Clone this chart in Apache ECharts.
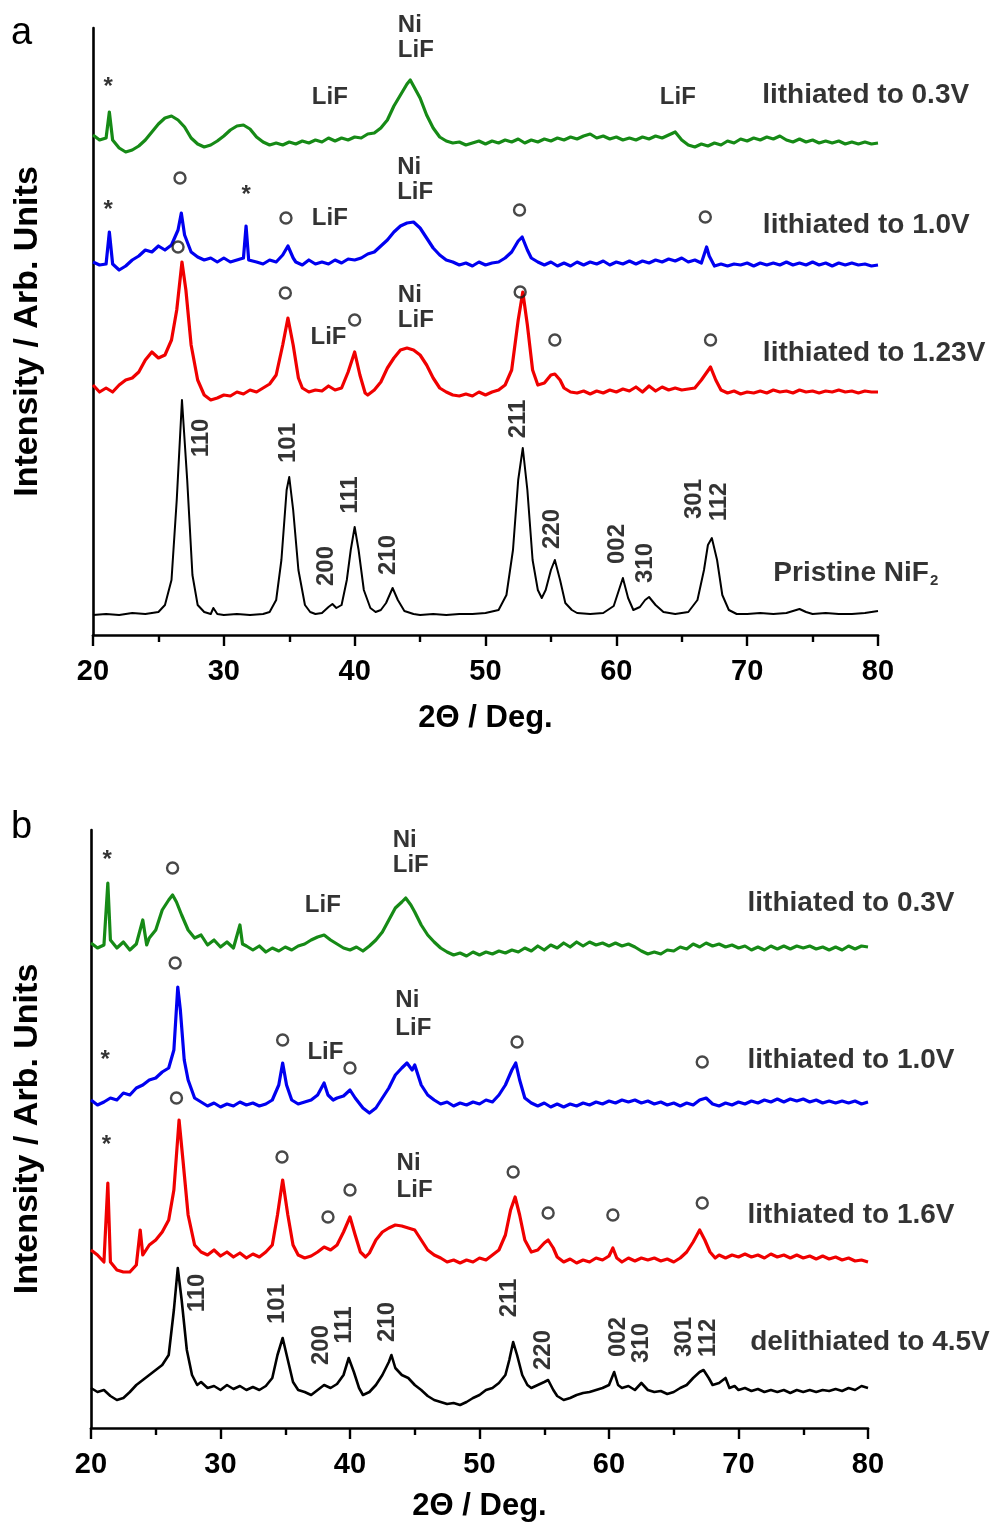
<!DOCTYPE html>
<html>
<head>
<meta charset="utf-8">
<script src="https://cdn.jsdelivr.net/npm/echarts@6/dist/echarts.min.js"></script>
<style>
html,body{margin:0;padding:0;background:#fff;}
#chart{width:996px;height:1525px;}
</style>
</head>
<body>
<div id="chart"></div>
<script>
// ---------------- DATA (2θ in degrees, intensity in arbitrary units, traces already stacked) ----------------
// Panel a
const greenA = [[20,500],[20.5,495],[21,497],[21.25,523],[21.5,495],[22,487],[22.5,483],[23,485],[23.5,489],[24,495],[24.5,503],[25,511],[25.5,517],[26,519],[26.5,515],[27,508],[27.5,497],[28,491],[28.5,488],[29,490],[29.5,494],[30,499],[30.5,505],[31,509],[31.5,510],[32,506],[32.5,498],[33,493],[33.5,490],[34,492],[34.5,490],[35,493],[35.5,491],[36,494],[36.5,492],[37,495],[37.5,493],[38,497],[38.5,494],[39,497],[39.5,495],[40,498],[40.5,497],[41,501],[41.5,502],[42,507],[42.5,515],[43,529],[43.5,540],[44,551],[44.25,555],[44.5,549],[45,537],[45.5,520],[46,507],[46.5,498],[47,494],[47.5,492],[48,493],[48.5,490],[49,492],[49.5,494],[50,491],[50.5,494],[51,492],[51.5,495],[52,493],[52.5,496],[53,492],[53.5,495],[54,493],[54.5,496],[55,494],[55.5,497],[56,495],[56.5,498],[57,496],[57.5,499],[58,501],[58.5,497],[59,499],[59.5,496],[60,498],[60.5,495],[61,497],[61.5,495],[62,498],[62.5,496],[63,499],[63.5,497],[64,500],[64.5,503],[65,495],[65.5,490],[66,488],[66.5,491],[67,489],[67.5,492],[68,490],[68.5,494],[69,492],[69.5,496],[70,494],[70.5,497],[71,495],[71.5,498],[72,496],[72.5,499],[73,495],[73.5,493],[74,496],[74.5,493],[75,495],[75.5,492],[76,494],[76.5,492],[77,494],[77.5,491],[78,493],[78.5,491],[79,493],[79.5,491],[80,492]];
const blueA = [[20,373],[20.5,370],[21,371],[21.25,403],[21.5,371],[22,365],[22.5,369],[23,375],[23.5,379],[24,385],[24.5,383],[25,389],[25.5,385],[26,390],[26.5,405],[26.75,422],[27,400],[27.5,383],[28,378],[28.5,375],[29,377],[29.5,373],[30,377],[30.5,373],[31,375],[31.5,377],[31.7,409],[31.9,375],[32.5,373],[33,371],[33.5,375],[34,373],[34.5,380],[34.9,389],[35.3,377],[35.5,373],[36,370],[36.5,375],[37,371],[37.5,373],[38,371],[38.5,375],[39,372],[39.5,376],[40,375],[40.5,377],[41,381],[41.5,383],[42,389],[42.5,395],[43,403],[43.5,409],[44,412],[44.5,413],[45,407],[45.5,397],[46,387],[46.5,380],[47,375],[47.5,373],[48,370],[48.5,372],[49,369],[49.5,373],[50,370],[50.5,372],[51,373],[51.5,377],[52,383],[52.5,394],[52.8,398],[53.2,385],[53.5,377],[54,373],[54.5,370],[55,373],[55.5,369],[56,372],[56.5,369],[57,373],[57.5,370],[58,373],[58.5,371],[59,374],[59.5,370],[60,373],[60.5,371],[61,374],[61.5,371],[62,374],[62.5,372],[63,375],[63.5,373],[64,376],[64.5,374],[65,377],[65.5,373],[66,375],[66.5,372],[66.9,388],[67.1,379],[67.5,369],[68,371],[68.5,369],[69,371],[69.5,370],[70,372],[70.5,369],[71,372],[71.5,370],[72,372],[72.5,370],[73,373],[73.5,370],[74,372],[74.5,370],[75,373],[75.5,370],[76,372],[76.5,369],[77,372],[77.5,370],[78,372],[78.5,370],[79,371],[79.5,369],[80,370]];
const redA = [[20,250],[20.5,243],[21,247],[21.5,243],[22,250],[22.5,255],[23,257],[23.5,263],[24,275],[24.5,283],[25,277],[25.5,280],[26,295],[26.4,325],[26.8,373],[27.1,345],[27.5,290],[28,255],[28.5,240],[29,235],[29.5,237],[30,240],[30.5,239],[31,243],[31.5,241],[32,245],[32.5,243],[33,247],[33.5,251],[34,260],[34.5,290],[34.9,317],[35.3,290],[35.7,257],[36,247],[36.5,243],[37,245],[37.5,244],[38,249],[38.5,245],[39,247],[39.5,263],[40,283],[40.4,260],[40.8,242],[41,240],[41.5,245],[42,253],[42.5,267],[43,277],[43.5,285],[44,287],[44.5,285],[45,280],[45.5,270],[46,257],[46.5,247],[47,243],[47.5,240],[48,239],[48.5,241],[49,239],[49.5,243],[50,240],[50.5,243],[51,245],[51.5,250],[52,265],[52.5,315],[52.85,343],[53.2,310],[53.6,265],[54,250],[54.5,252],[55,260],[55.3,261],[55.7,255],[56,247],[56.5,243],[57,242],[57.5,244],[58,241],[58.5,244],[59,242],[59.5,245],[60,243],[60.5,246],[61,244],[61.5,248],[62,243],[62.5,249],[63,244],[63.5,248],[64,245],[64.5,247],[65,245],[65.5,246],[66,247],[66.5,255],[67.2,268],[67.6,255],[68,245],[68.5,242],[69,244],[69.5,241],[70,243],[70.5,242],[71,244],[71.5,242],[72,245],[72.5,243],[73,244],[73.5,242],[74,245],[74.5,243],[75,244],[75.5,242],[76,244],[76.5,243],[77,245],[77.5,243],[78,244],[78.5,242],[79,244],[79.5,243],[80,243]];
const blackA = [[20,20],[21,21],[22,20],[23,22],[24,21],[25,23],[25.5,30],[26,55],[26.4,135],[26.8,235],[27.2,155],[27.6,60],[28,30],[28.5,23],[29,21],[29.2,27],[29.5,21],[30,20],[31,21],[32,20],[33,21],[33.5,23],[34,35],[34.4,75],[34.8,145],[35,158],[35.3,125],[35.7,65],[36.2,30],[36.6,23],[37,21],[37.5,22],[38,28],[38.3,31],[38.6,27],[39,30],[39.4,55],[39.7,85],[40,108],[40.3,85],[40.7,45],[41.2,27],[41.6,23],[42,25],[42.4,32],[42.9,47],[43.3,35],[43.8,24],[44.5,21],[45,20],[46,21],[47,20],[48,21],[49,21],[50,22],[51,25],[51.6,40],[52.1,85],[52.5,155],[52.85,187],[53.2,145],[53.6,75],[54,45],[54.3,37],[54.6,45],[55,65],[55.3,75],[55.7,55],[56.1,32],[56.6,25],[57,22],[58,21],[59,22],[59.8,29],[60.2,45],[60.5,57],[60.9,37],[61.3,25],[61.8,28],[62.2,35],[62.5,38],[63,30],[63.6,23],[64.5,21],[65.5,23],[66.2,35],[66.7,65],[67,90],[67.3,97],[67.7,75],[68.1,40],[68.6,25],[69.2,21],[70,21],[71,22],[72,21],[73,22],[74,26],[74.5,23],[75,21],[76,22],[77,21],[78,21],[79,22],[80,24]];

// Panel b
const greenB = [[20,485],[20.5,480],[21,483],[21.3,545],[21.5,488],[22,480],[22.5,486],[23,478],[23.5,484],[24,508],[24.3,483],[24.5,490],[25,498],[25.5,518],[26,528],[26.3,533],[26.6,526],[27,513],[27.5,498],[28,490],[28.5,493],[29,483],[29.5,488],[30,481],[30.5,486],[31,480],[31.5,503],[31.7,484],[32,482],[32.5,478],[33,482],[33.5,476],[34,480],[34.5,477],[35,481],[35.5,478],[36,482],[36.5,484],[37,488],[37.5,491],[38,493],[38.5,488],[39,484],[39.5,480],[40,478],[40.5,481],[41,477],[41.5,482],[42,488],[42.5,496],[43,508],[43.5,520],[44,526],[44.3,530],[44.7,523],[45,516],[45.5,503],[46,493],[46.5,486],[47,480],[47.5,476],[48,473],[48.5,475],[49,472],[49.5,476],[50,473],[50.5,476],[51,474],[51.5,477],[52,475],[52.5,478],[53,476],[53.5,480],[54,477],[54.5,482],[55,478],[55.5,483],[56,480],[56.5,485],[57,481],[57.5,486],[58,482],[58.5,486],[59,483],[59.5,485],[60,482],[60.5,485],[61,482],[61.5,484],[62,481],[62.5,477],[63,474],[63.5,476],[64,474],[64.5,478],[65,477],[65.5,481],[66,479],[66.5,484],[67,481],[67.5,485],[68,482],[68.5,484],[69,481],[69.5,483],[70,480],[70.5,482],[71,478],[71.5,481],[72,478],[72.5,482],[73,479],[73.5,482],[74,479],[74.5,482],[75,480],[75.5,482],[76,479],[76.5,481],[77,478],[77.5,481],[78,478],[78.5,482],[79,479],[79.5,482],[80,481]];
const blueB = [[20,328],[20.5,323],[21,326],[21.5,330],[22,328],[22.5,335],[23,333],[23.5,340],[24,343],[24.5,348],[25,350],[25.5,356],[26,360],[26.4,378],[26.7,441],[26.9,418],[27.2,368],[27.5,348],[28,330],[28.5,326],[29,322],[29.5,325],[30,321],[30.5,324],[31,322],[31.5,326],[32,323],[32.5,325],[33,322],[33.5,324],[34,328],[34.5,343],[34.8,365],[35.1,343],[35.5,328],[36,324],[36.5,326],[37,328],[37.5,333],[38,345],[38.3,333],[38.7,328],[39,330],[39.5,332],[40,338],[40.4,330],[41,320],[41.5,315],[42,320],[42.5,330],[43,340],[43.5,353],[44,360],[44.4,365],[44.8,358],[45,363],[45.5,343],[46,333],[46.5,328],[47,324],[47.5,326],[48,322],[48.5,325],[49,323],[49.5,326],[50,324],[50.5,328],[51,326],[51.5,333],[52,343],[52.5,358],[52.8,365],[53.1,348],[53.5,330],[54,325],[54.5,322],[55,325],[55.5,321],[56,324],[56.5,321],[57,324],[57.5,322],[58,325],[58.5,323],[59,326],[59.5,324],[60,327],[60.5,325],[61,328],[61.5,326],[62,328],[62.5,325],[63,327],[63.5,324],[64,326],[64.5,323],[65,325],[65.5,322],[66,325],[66.5,323],[67,328],[67.5,330],[68,324],[68.5,322],[69,325],[69.5,323],[70,326],[70.5,324],[71,327],[71.5,325],[72,328],[72.5,326],[73,329],[73.5,326],[74,329],[74.5,327],[75,329],[75.5,326],[76,328],[76.5,325],[77,327],[77.5,325],[78,327],[78.5,325],[79,327],[79.5,324],[80,326]];
const redB = [[20,178],[20.5,173],[21,166],[21.3,245],[21.5,166],[22,158],[22.5,156],[23,156],[23.5,163],[23.8,198],[24,173],[24.5,183],[25,188],[25.5,196],[26,208],[26.4,238],[26.8,308],[27.1,268],[27.5,213],[28,183],[28.5,176],[29,173],[29.5,178],[30,172],[30.5,176],[31,171],[31.5,175],[32,170],[32.5,174],[33,171],[33.5,176],[34,183],[34.4,213],[34.8,248],[35.2,213],[35.6,183],[36,173],[36.5,170],[37,172],[37.5,176],[38,181],[38.5,178],[39,183],[39.5,196],[40,211],[40.4,193],[40.8,176],[41.2,171],[41.5,175],[42,188],[42.5,196],[43,200],[43.5,203],[44,202],[44.5,200],[45,198],[45.5,188],[46,178],[46.5,173],[47,170],[47.5,166],[48,168],[48.5,165],[49,168],[49.5,166],[50,170],[50.5,168],[51,173],[51.5,178],[52,193],[52.4,218],[52.75,231],[53.1,213],[53.5,188],[54,176],[54.5,178],[55,185],[55.3,188],[55.7,180],[56,171],[56.5,166],[57,169],[57.5,165],[58,168],[58.5,166],[59,170],[59.5,168],[60,172],[60.3,180],[60.6,170],[61,166],[61.5,170],[62,167],[62.5,170],[63,168],[63.5,170],[64,167],[64.5,169],[65,166],[65.5,170],[66,176],[66.5,186],[67,198],[67.4,188],[67.8,176],[68.2,170],[68.5,173],[69,170],[69.5,173],[70,171],[70.5,174],[71,171],[71.5,173],[72,170],[72.5,174],[73,171],[73.5,173],[74,170],[74.5,173],[75,170],[75.5,172],[76,169],[76.5,172],[77,169],[77.5,171],[78,168],[78.5,170],[79,167],[79.5,168],[80,166]];
const blackB = [[20,40],[20.5,36],[21,38],[21.5,32],[22,28],[22.5,30],[23,36],[23.5,43],[24,48],[24.5,53],[25,58],[25.5,63],[26,73],[26.4,118],[26.7,160],[27,128],[27.4,78],[27.8,53],[28.2,43],[28.5,46],[29,40],[29.5,42],[30,38],[30.5,43],[31,39],[31.5,42],[32,38],[32.5,41],[33,38],[33.5,42],[34,50],[34.4,73],[34.8,90],[35.2,68],[35.6,46],[36,38],[36.5,36],[37,33],[37.5,38],[38,43],[38.5,40],[39,44],[39.5,53],[39.9,70],[40.3,56],[40.7,40],[41,33],[41.5,36],[42,43],[42.5,53],[43,66],[43.2,73],[43.5,60],[44,53],[44.5,50],[45,43],[45.5,38],[46,32],[46.5,28],[47,26],[47.5,24],[48,25],[48.5,23],[49,26],[49.5,30],[50,33],[50.5,38],[51,40],[51.5,45],[52,53],[52.3,68],[52.6,86],[52.9,73],[53.3,53],[53.7,43],[54,40],[54.5,43],[55,46],[55.3,48],[55.7,38],[56,32],[56.5,28],[57,30],[57.5,33],[58,35],[58.5,36],[59,38],[59.5,40],[60,43],[60.4,56],[60.7,43],[61,40],[61.5,42],[62,38],[62.5,45],[63,38],[63.5,36],[64,37],[64.5,34],[65,36],[65.5,40],[66,43],[66.5,50],[67,56],[67.3,58],[67.7,50],[68,43],[68.5,45],[69,50],[69.3,40],[69.7,42],[70,38],[70.5,40],[71,37],[71.5,39],[72,36],[72.5,38],[73,36],[73.5,38],[74,35],[74.5,38],[75,36],[75.5,38],[76,36],[76.5,38],[77,37],[77.5,39],[78,37],[78.5,40],[79,38],[79.5,42],[80,40]];

// x-axis tick values
const xTicks = [20, 30, 40, 50, 60, 70, 80];

// ---------------- ANNOTATIONS (text, 2θ, intensity) ----------------
const phaseA = [['*',21.15,548],['LiF',38.1,538],['LiF',64.7,538],['*',21.15,425],['*',31.7,440],['LiF',38.1,417],['LiF',38.0,298]];
const niLifA = [['Ni',43.3,610],['LiF',43.3,585],['Ni',43.25,468],['LiF',43.25,443],['Ni',43.3,340],['LiF',43.3,315]];
const condA = [['lithiated to 0.3V',71.15,540],['lithiated to 1.0V',71.2,410],['lithiated to 1.23V',71.2,282],['Pristine NiF{s|2}',72.0,62]];
const hklA = [['110',28.3,197],['101',34.9,192],['200',37.8,69],['111',39.7,140],['210',42.6,80],['211',52.5,216],['220',55.1,106],['002',60.1,91],['310',62.2,72],['301',65.95,136],['112',67.9,133]];
const circA = [[26.65,457],[34.75,417],[52.6,425],[66.8,418],[26.5,388],[34.7,342],[40.0,315],[52.65,343],[55.3,295],[67.2,295]];

const phaseB = [['*',21.24,568],['LiF',37.9,523],['*',21.1,368],['LiF',38.1,376],['*',21.2,283]];
const niLifB = [['Ni',43.3,588],['LiF',43.3,563],['Ni',43.5,428],['LiF',43.5,400],['Ni',43.6,265],['LiF',43.6,238]];
const condB = [['lithiated to 0.3V',70.7,525],['lithiated to 1.0V',70.7,368],['lithiated to 1.6V',70.7,213],['delithiated to 4.5V',70.9,86]];
const hklB = [['110',28.2,135],['101',34.4,124],['200',37.8,83],['111',39.6,103],['210',42.9,106],['211',52.3,130],['220',54.9,78],['002',60.7,91],['310',62.5,85],['301',65.8,91],['112',67.7,90]];
const circB = [[26.3,560],[26.5,465],[34.8,388],[40.0,360],[52.9,386],[67.2,366],[26.6,330],[34.75,271],[38.3,211],[40.0,238],[52.6,256],[55.3,215],[60.3,213],[67.2,225]];

// ---------------- CHART ----------------
const FONT = '"Liberation Sans", Arial, Helvetica, sans-serif';
const colors = {green:'#168a16', blue:'#0000f0', red:'#f00000', black:'#000000'};

function lineSeries(data, color, gi, w) {
  return {type:'line', data:data, xAxisIndex:gi, yAxisIndex:gi, showSymbol:false, symbol:'none',
    lineStyle:{color:color, width:w, join:'round'}, itemStyle:{color:color}, animation:false, silent:true, z:2};
}
function textSeries(list, gi, opts) {
  return {type:'scatter', xAxisIndex:gi, yAxisIndex:gi, symbolSize:0, silent:true, animation:false, z:5, clip:false,
    data:list.map(d => ({value:[d[1], d[2]], name:d[0]})),
    label:Object.assign({show:true, formatter:'{b}', position:[0,0], color:'#000', fontFamily:FONT,
      fontWeight:'bold', align:'center', verticalAlign:'middle',
      rich:{s:{fontSize:15, fontWeight:'bold', fontFamily:FONT, color:'#000', padding:[16,0,0,1]}}}, opts)};
}
function circleSeries(list, gi) {
  return {type:'scatter', xAxisIndex:gi, yAxisIndex:gi, symbol:'circle', symbolSize:11, silent:true, animation:false, z:5, clip:false,
    data:list, itemStyle:{color:'rgba(255,255,255,0)', borderColor:'#1a1a1a', borderWidth:2.4}};
}
function xAxis(gi, gap) {
  return {gridIndex:gi, type:'value', min:xTicks[0], max:xTicks[xTicks.length-1], interval:xTicks[1]-xTicks[0],
    axisLine:{show:true, onZero:false, lineStyle:{color:'#000', width:2.6}},
    axisTick:{show:true, length:11, lineStyle:{color:'#000', width:2.4}},
    minorTick:{show:true, splitNumber:2, length:7, lineStyle:{color:'#000', width:2.4}},
    splitLine:{show:false}, minorSplitLine:{show:false},
    axisLabel:{fontSize:29, fontWeight:'bold', color:'#000', fontFamily:FONT, margin:22},
    name:'2\u0398 / Deg.', nameLocation:'middle', nameGap:gap,
    nameTextStyle:{fontSize:31, fontWeight:'bold', color:'#000', fontFamily:FONT}};
}
function yAxis(gi, max, gap) {
  return {gridIndex:gi, type:'value', min:0, max:max,
    axisLine:{show:true, lineStyle:{color:'#000', width:2.6}}, axisTick:{show:false}, axisLabel:{show:false},
    splitLine:{show:false},
    name:'Intensity / Arb. Units', nameLocation:'middle', nameGap:gap, nameRotate:90,
    nameTextStyle:{fontSize:34, fontWeight:'bold', color:'#000', fontFamily:FONT}};
}

const chart = echarts.init(document.getElementById('chart'), null, {renderer:'canvas'});
chart.setOption({
  backgroundColor:'#fff',
  animation:false,
  grid:[{left:93, top:28, width:785, height:607}, {left:91, top:830, width:777, height:598}],
  xAxis:[xAxis(0, 68), xAxis(1, 63)],
  yAxis:[yAxis(0, 607, 48), yAxis(1, 598, 46)],
  graphic:[
    {type:'text', left:11, top:15, style:{text:'a', font:'38px ' + FONT, fill:'#000'}},
    {type:'text', left:11, top:809, style:{text:'b', font:'38px ' + FONT, fill:'#000'}}
  ],
  series:[
    lineSeries(greenA, colors.green, 0, 3.2), lineSeries(blueA, colors.blue, 0, 3.2), lineSeries(redA, colors.red, 0, 3.2), lineSeries(blackA, colors.black, 0, 2),
    lineSeries(greenB, colors.green, 1, 3.2), lineSeries(blueB, colors.blue, 1, 3.2), lineSeries(redB, colors.red, 1, 3.2), lineSeries(blackB, colors.black, 1, 2.6),
    textSeries(phaseA, 0, {fontSize:24}), textSeries(niLifA, 0, {fontSize:24, align:'left'}),
    textSeries(condA, 0, {fontSize:28, align:'left'}), textSeries(hklA, 0, {fontSize:24, rotate:90}),
    circleSeries(circA, 0),
    textSeries(phaseB, 1, {fontSize:24}), textSeries(niLifB, 1, {fontSize:24, align:'left'}),
    textSeries(condB, 1, {fontSize:28, align:'left'}), textSeries(hklB, 1, {fontSize:24, rotate:90}),
    circleSeries(circB, 1)
  ]
});
</script>
</body>
</html>
